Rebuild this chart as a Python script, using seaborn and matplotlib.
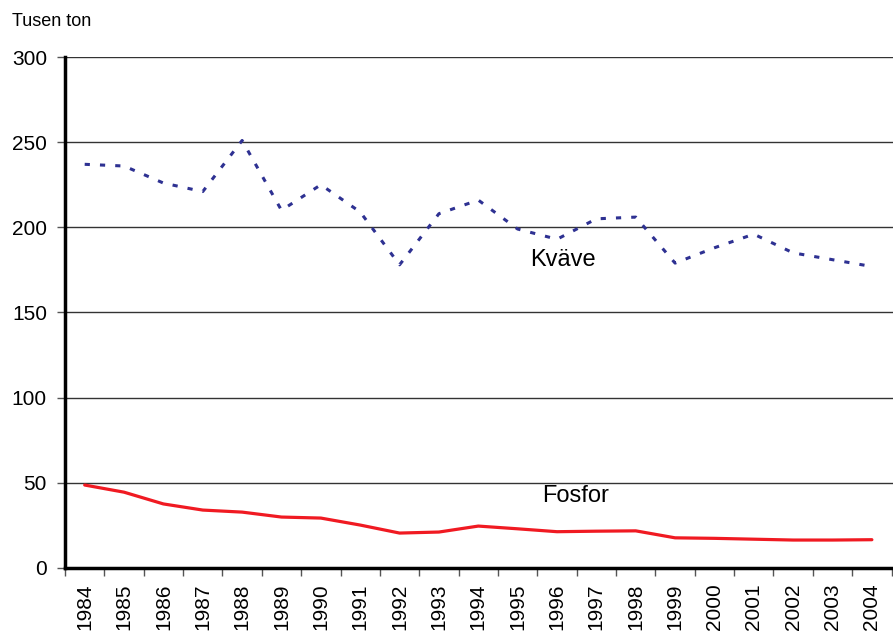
import matplotlib
matplotlib.use("Agg")
import matplotlib.pyplot as plt
import numpy as np
import pandas as pd
import seaborn as sns

years = list(range(1984, 2005))
kvave = [237, 236, 226, 221, 251, 210, 225, 209, 178, 208, 216,
         199, 193, 205, 206, 179, 188, 196, 185, 181, 177]
fosfor = [48.7, 44.5, 37.6, 34.0, 32.8, 29.9, 29.3, 25.2, 20.5, 21.1, 24.6,
          23.0, 21.3, 21.6, 21.8, 17.7, 17.4, 16.9, 16.4, 16.4, 16.6]

df = pd.DataFrame({"pos": np.arange(len(years)), "Kväve": kvave, "Fosfor": fosfor})

sns.set_style("white")
plt.rcParams['font.family'] = ['Liberation Sans', 'DejaVu Sans']
plt.rcParams['text.color'] = 'black'
plt.rcParams['xtick.color'] = 'black'
plt.rcParams['ytick.color'] = 'black'

fig = plt.figure(figsize=(8.93, 6.32), dpi=100)
ax = fig.add_axes([0.0728, 0.1013, 0.93, 0.8085])

for yv in [50, 100, 150, 200, 250, 300]:
    ax.axhline(yv, color="#333333", lw=1.0, zorder=1)

sns.lineplot(data=df, x="pos", y="Kväve", ax=ax, color="#2E3192", lw=2.2,
             linestyle=(0, (1.7, 3.3)), zorder=3)
sns.lineplot(data=df, x="pos", y="Fosfor", ax=ax, color="#F01A22", lw=2.3, zorder=3)

ax.set_xlim(-0.5, 20.6)
ax.set_ylim(0, 300)
ax.set_yticks([0, 50, 100, 150, 200, 250, 300])
ax.set_xticks(np.arange(len(years)))
ax.set_xticklabels([str(y) for y in years], rotation=90, fontsize=15, va="top")
ax.set_xticks(np.arange(len(years) + 1) - 0.5, minor=True)
ax.tick_params(axis="x", which="major", length=0, pad=11)
ax.tick_params(axis="x", which="minor", length=6, width=1, color="#555555", direction="out", bottom=True)
ax.tick_params(axis="y", length=6, width=1, color="#555555", direction="out", left=True, labelsize=15, pad=7)
ax.set_xlabel("")
ax.set_ylabel("")

for s in ["top", "right"]:
    ax.spines[s].set_visible(False)
for s in ["left", "bottom"]:
    ax.spines[s].set_linewidth(2.5)
    ax.spines[s].set_color("black")
    ax.spines[s].set_zorder(4)

ax.text(12.14, 181, "Kväve", fontsize=17, ha="center", va="center")
ax.text(12.47, 42, "Fosfor", fontsize=17, ha="center", va="center")
fig.text(12 / 893, 1 - 21 / 632, "Tusen ton", fontsize=13, ha="left", va="center")

fig.savefig("out.png", dpi=100)
